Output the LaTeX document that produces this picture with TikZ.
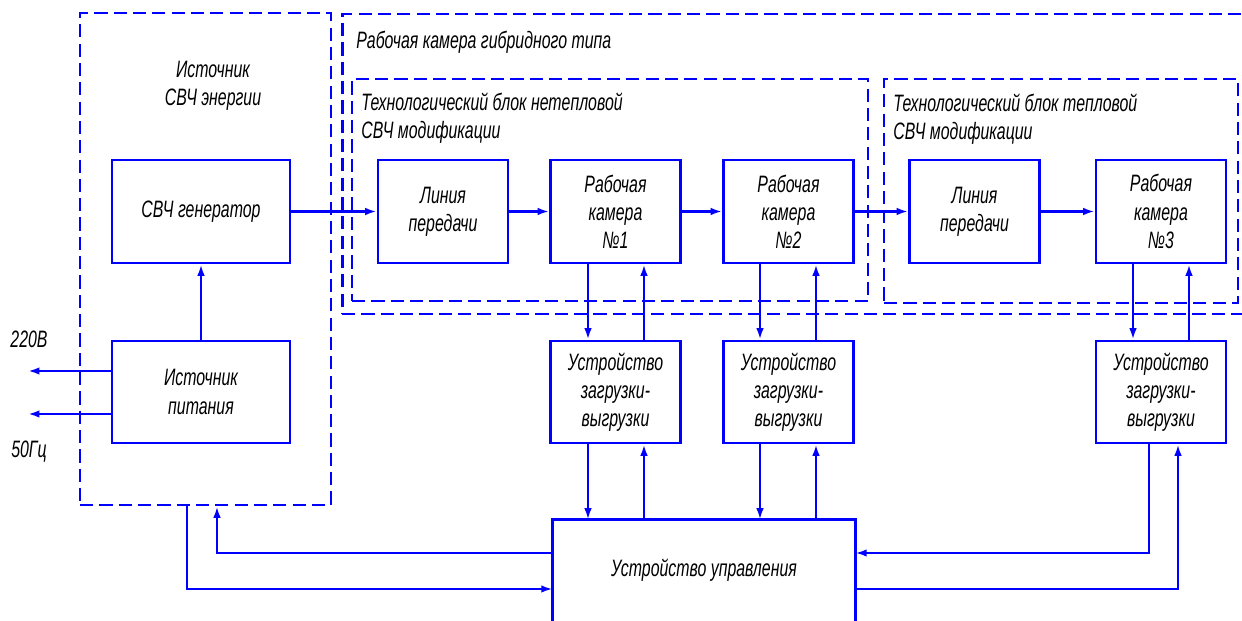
\documentclass[tikz,border=0pt]{standalone}
\usepackage{fontspec}
\setmainfont[FakeStretch=0.67]{Liberation Sans}
\usetikzlibrary{arrows.meta}
\newcommand\lblfont{\fontsize{13.5}{16}\selectfont\itshape}
\begin{document}
\begin{tikzpicture}[x=0.02cm,y=-0.02cm,
  box/.style={draw=blue, line width=1.6pt, minimum width=2.6cm, minimum height=2.06cm, align=center, inner sep=0pt, font=\lblfont},
  grp/.style={draw=blue, line width=1.6pt, dash pattern=on 7.5pt off 3.5pt, inner sep=0pt},
  arr/.style={draw=blue, line width=1.3pt, -{Latex[length=6.5pt,width=4.3pt]}},
  boxline/.style={draw=blue, line width=1.6pt},
  lbl/.style={font=\lblfont, inner sep=0pt, text=black}]
\useasboundingbox (0,0) rectangle (1242,621);
\clip (0,0) rectangle (1242,621);
% groups
\node[grp, minimum width=5.02cm, minimum height=9.84cm] (src) at (205.5,259) {};
\node[grp, minimum width=18.56cm, minimum height=6cm] (hyb) at (806,164) {};
\node[grp, minimum width=10.32cm, minimum height=4.44cm] (tb1) at (610,190) {};
\node[grp, minimum width=7.08cm, minimum height=4.48cm] (tb2) at (1061,191) {};
% group labels
\node[lbl, align=center] (srclbl) at (213,86) {Источник\\СВЧ энергии};
\node[lbl, anchor=west] (hyblbl) at (356,42) {Рабочая камера гибридного типа};
\node[lbl, anchor=west, align=left] (tb1lbl) at (361,118) {Технологический блок нетепловой\\СВЧ модификации};
\node[lbl, anchor=west, align=left] (tb2lbl) at (893,119) {Технологический блок тепловой\\СВЧ модификации};
% blocks
\node[box, minimum width=3.56cm] (gen) at (201,211.5) {СВЧ генератор};
\node[box, minimum width=3.56cm, minimum height=2.04cm] (ip) at (201,392) {Источник\\питания};
\node[box] (lp1) at (443,211.5) {Линия\\передачи};
\node[box] (rk1) at (615.5,211.5) {Рабочая\\камера\\№1};
\node[box] (rk2) at (788.5,211.5) {Рабочая\\камера\\№2};
\node[box] (lp2) at (974.5,211.5) {Линия\\передачи};
\node[box] (rk3) at (1161,211.5) {Рабочая\\камера\\№3};
\node[box, minimum height=2.04cm] (uz1) at (615.5,392) {Устройство\\загрузки-\\выгрузки};
\node[box, minimum height=2.04cm] (uz2) at (788.5,392) {Устройство\\загрузки-\\выгрузки};
\node[box, minimum height=2.04cm] (uz3) at (1161,392) {Устройство\\загрузки-\\выгрузки};
\node[lbl, minimum width=6.04cm, minimum height=2cm] (ctrl) at (704,570) {Устройство управления};
\draw[boxline] ([yshift=-0.3cm]ctrl.south west) -- (ctrl.north west) -- (ctrl.north east) -- ([yshift=-0.3cm]ctrl.south east);
% mains input
\coordinate (in1) at (28,371);
\coordinate (in2) at (28,414);
\node[lbl] (v220) at (29,339) {220В};
\node[lbl] (f50) at (29,452) {50Гц};
\draw[arr] (ip.west |- in1) -- (in1);
\draw[arr] (ip.west |- in2) -- (in2);
% chain
\draw[arr] (ip) -- (gen);
\draw[arr] (gen) -- (lp1);
\draw[arr] (lp1) -- (rk1);
\draw[arr] (rk1) -- (rk2);
\draw[arr] (rk2) -- (lp2);
\draw[arr] (lp2) -- (rk3);
% chambers <-> loaders
\draw[arr] ([xshift=-0.55cm]rk1.south) -- ([xshift=-0.55cm]rk1.south |- uz1.north);
\draw[arr] ([xshift=0.57cm]rk1.south |- uz1.north) -- ([xshift=0.57cm]rk1.south);
\draw[arr] ([xshift=-0.57cm]rk2.south) -- ([xshift=-0.57cm]rk2.south |- uz2.north);
\draw[arr] ([xshift=0.55cm]rk2.south |- uz2.north) -- ([xshift=0.55cm]rk2.south);
\draw[arr] ([xshift=-0.56cm]rk3.south) -- ([xshift=-0.56cm]rk3.south |- uz3.north);
\draw[arr] ([xshift=0.56cm]rk3.south |- uz3.north) -- ([xshift=0.56cm]rk3.south);
% loaders <-> control
\draw[arr] ([xshift=-0.55cm]uz1.south) -- ([xshift=-0.55cm]uz1.south |- ctrl.north);
\draw[arr] ([xshift=0.57cm]uz1.south |- ctrl.north) -- ([xshift=0.57cm]uz1.south);
\draw[arr] ([xshift=-0.57cm]uz2.south) -- ([xshift=-0.57cm]uz2.south |- ctrl.north);
\draw[arr] ([xshift=0.55cm]uz2.south |- ctrl.north) -- ([xshift=0.55cm]uz2.south);
\draw[arr] ([xshift=-0.24cm]uz3.south) |- ([yshift=0.34cm]ctrl.east);
\draw[arr] ([yshift=-0.38cm]ctrl.east) -| ([xshift=0.34cm]uz3.south);
% control <-> source
\draw[arr] ([yshift=0.34cm]ctrl.west) -| ([xshift=0.23cm]src.south);
\draw[arr] ([xshift=-0.37cm]src.south) |- ([yshift=-0.38cm]ctrl.west);
\end{tikzpicture}
\end{document}
